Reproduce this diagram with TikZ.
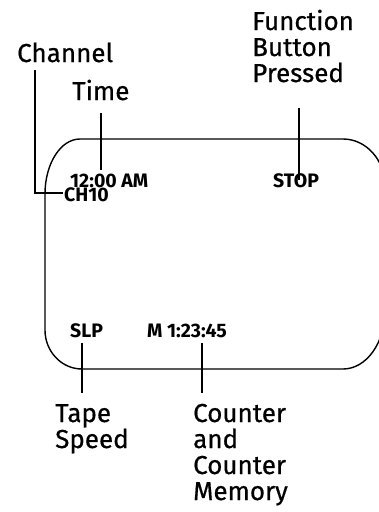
\documentclass[tikz,border=0pt]{standalone}
\usepackage{fontspec}
\setmainfont{Fira Sans}
\newfontfamily\labelfont[FakeBold=0.6]{Fira Sans}
\newfontfamily\lcdfont{Fira Sans}
\begin{document}
\begin{tikzpicture}[x=1pt,y=-1pt,
  biglabel/.style={anchor=base west,inner sep=0pt,font=\labelfont\fontsize{26}{26}\selectfont},
  lcdtext/.style={anchor=base west,inner sep=0pt,font=\lcdfont\fontsize{19.5}{20}\selectfont\bfseries},
  screen/.style={line width=1.4pt},
  leader/.style={line width=2pt}]
\useasboundingbox (0,0) rectangle (378,512);
% screen outline
\draw[screen] (80,139) -- (343,139)
  arc[start angle=-90,end angle=0,x radius=42,y radius=47] -- (385,311)
  arc[start angle=0,end angle=90,x radius=42,y radius=58] -- (82,369)
  arc[start angle=90,end angle=180,x radius=37,y radius=39] -- (45,194)
  arc[start angle=180,end angle=270,x radius=35,y radius=55] -- cycle;
% labels
\node[biglabel] (channel) at (17,62) {Channel};
\node[biglabel] (time) at (72,100) {Time};
\node[biglabel] (func1) at (252,30) {Function};
\node[biglabel] (func2) at (252,56) {Button};
\node[biglabel] (func3) at (252,82) {Pressed};
\node[biglabel] (tape1) at (55,422) {Tape};
\node[biglabel] (tape2) at (55,448) {Speed};
\node[biglabel] (cnt1) at (193,422) {Counter};
\node[biglabel] (cnt2) at (193,448) {and};
\node[biglabel] (cnt3) at (193,474) {Counter};
\node[biglabel] (cnt4) at (193,500) {Memory};
% display texts
\node[lcdtext] (clock) at (70,187) {12:00 AM};
\node[lcdtext] (ch) at (64,201) {CH10};
\node[lcdtext] (stop) at (273,187) {STOP};
\node[lcdtext] (slp) at (70,337) {SLP};
\node[lcdtext] (ctr) at (147,337) {M 1:23:45};
% leader end points
\coordinate (chA) at (35,70);
\coordinate (chB) at (35,193);
\coordinate (chC) at (63,193);
\coordinate (tA) at (101,113);
\coordinate (tB) at (101,170);
\coordinate (fA) at (299,108);
\coordinate (fB) at (299,180);
\coordinate (sA) at (82,343);
\coordinate (sB) at (82,393);
\coordinate (cA) at (202,343);
\coordinate (cB) at (202,393);
\draw[leader] (chA) -- (chB) -- (chC);
\draw[leader] (tA) -- (tB);
\draw[leader] (fA) -- (fB);
\draw[leader] (sA) -- (sB);
\draw[leader] (cA) -- (cB);
\end{tikzpicture}
\end{document}
